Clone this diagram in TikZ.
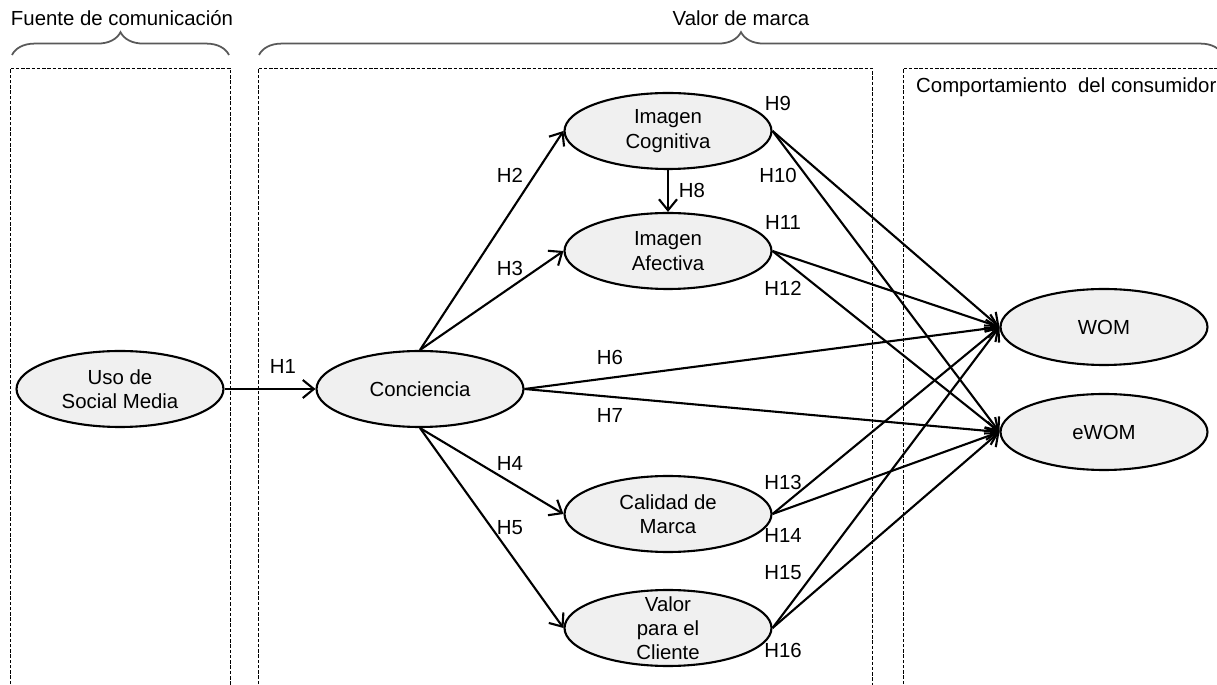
\documentclass[tikz,border=0pt]{standalone}
\usepackage{fontspec}
\setmainfont{Liberation Sans}
\usetikzlibrary{arrows.meta, shapes.geometric, decorations.pathreplacing}

\begin{document}
\begin{tikzpicture}[>={Straight Barb[length=2.2mm,width=3.6mm]},
    x=0.02cm, y=-0.02cm, font=\fontsize{11.6}{13.8}\selectfont,
    construct/.style={draw, ellipse, line width=1.2pt, fill=gray!12,
      minimum width=4.14cm, minimum height=1.52cm, inner sep=0pt,
      label={[align=center]center:#1}},
    group/.style={dash pattern=on 2pt off 1pt, line width=0.5pt},
    bracket/.style={decorate, decoration={brace, amplitude=13pt},
      line width=1pt, black!65},
    rel/.style={->, line width=1.2pt},
    hyp/.style={inner sep=0pt}]
  \useasboundingbox (0,0) rectangle (1217,685);

  % Groups
  \node (fuente) at (122,18) {Fuente de comunicación};
  \node (valormarca) at (741,18) {Valor de marca};
  \draw[bracket] (12,55) -- (229,55);
  \draw[bracket] (259,55) -- (1223,55);

  \draw[group] (10,700) -- (10,68) -- (230,68) -- (230,700);
  \draw[group] (258,700) -- (258,68) -- (872,68) -- (872,700);
  \draw[group] (903,700) -- (903,68) -- (1240,68);
  \node[anchor=west] (comport) at (910,87) {Comportamiento\ \ del consumidor};

  % Constructs
  \node[construct={Uso de\\Social Media}] (uso) at (120,389) {};
  \node[construct={Conciencia}] (conc) at (420,389) {};
  \node[construct={Imagen\\Cognitiva}] (icog) at (668,131) {};
  \node[construct={Imagen\\Afectiva}] (iafe) at (668,251) {};
  \node[construct={Calidad de\\Marca}] (cal) at (668,514) {};
  \node[construct={Valor\\para el\\Cliente}] (val) at (668,628) {};
  \node[construct={WOM}] (wom) at (1104,327) {};
  \node[construct={eWOM}] (ewom) at (1104,432) {};

  % Hypotheses
  \draw[rel] (uso.east) -- (conc.west);
  \draw[rel] (conc.north) -- (icog.west);
  \draw[rel] (conc.north) -- (iafe.west);
  \draw[rel] (conc.south) -- (cal.west);
  \draw[rel] (conc.south) -- (val.west);
  \draw[rel] (conc.east) -- (wom.west);
  \draw[rel] (conc.east) -- (ewom.west);
  \draw[rel] (icog.south) -- (iafe.north);
  \foreach \src in {icog, iafe, cal, val} {
    \draw[rel] (\src.east) -- (wom.west);
    \draw[rel] (\src.east) -- (ewom.west);
  }

  \node[hyp] (h1) at (283,366) {H1};
  \node[hyp] (h2) at (510,175) {H2};
  \node[hyp] (h3) at (510,268) {H3};
  \node[hyp] (h4) at (510,463) {H4};
  \node[hyp] (h5) at (510,528) {H5};
  \node[hyp] (h6) at (610,357) {H6};
  \node[hyp] (h7) at (610,415) {H7};
  \node[hyp] (h8) at (692,190) {H8};
  \node[hyp] (h9) at (778,103) {H9};
  \node[hyp] (h10) at (778,175) {H10};
  \node[hyp] (h11) at (783,222) {H11};
  \node[hyp] (h12) at (783,288) {H12};
  \node[hyp] (h13) at (783,482) {H13};
  \node[hyp] (h14) at (783,535) {H14};
  \node[hyp] (h15) at (783,573) {H15};
  \node[hyp] (h16) at (783,650) {H16};
\end{tikzpicture}
\end{document}
